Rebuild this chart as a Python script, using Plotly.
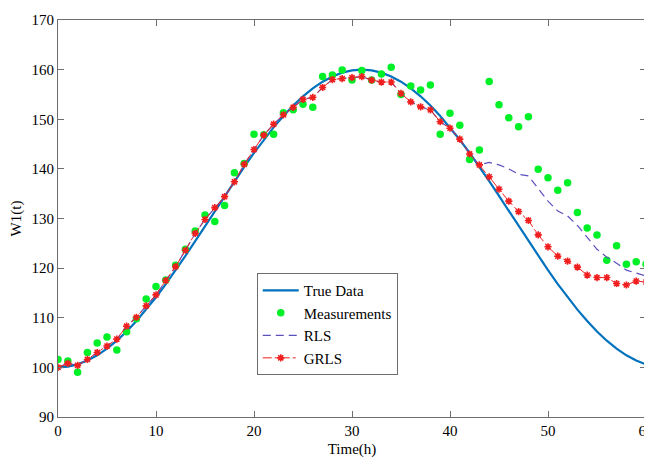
import plotly.graph_objects as go

t = list(range(61))

true_data = [100.0, 100.15, 100.61, 101.38, 102.43, 103.77, 105.38, 107.24, 109.33, 111.64,
             114.13, 116.79, 119.58, 122.48, 125.46, 128.48, 131.52, 134.54, 137.52, 140.42,
             143.21, 145.87, 148.36, 150.67, 152.76, 154.62, 156.23, 157.57, 158.62, 159.39,
             159.85, 160.0, 159.85, 159.39, 158.62, 157.57, 156.23, 154.62, 152.76, 150.67,
             148.36, 145.87, 143.21, 140.42, 137.52, 134.54, 131.52, 128.48, 125.46, 122.48,
             119.58, 116.79, 114.13, 111.64, 109.33, 107.24, 105.38, 103.77, 102.43, 101.38,
             100.61]

measurements = [101.6, 101.3, 99.0, 103.0, 104.9, 106.1, 103.5, 107.2, 109.8, 113.8,
                116.3, 117.6, 120.6, 123.8, 127.5, 130.7, 129.4, 132.6, 139.2, 141.1,
                147.0, 146.9, 147.0, 151.3, 151.9, 153.0, 152.4, 158.6, 158.9, 159.9,
                157.9, 159.8, 157.9, 159.1, 160.5, 155.0, 156.7, 155.9, 156.9, 147.0,
                151.2, 148.8, 141.9, 143.8, 157.6, 152.9, 150.3, 148.5, 150.5, 139.9,
                138.2, 135.7, 137.2, 131.2, 128.1, 126.7, 121.6, 124.5, 120.8, 121.3,
                120.8]

grls = [100.0, 100.8, 100.4, 101.6, 103.0, 104.3, 105.7, 108.3, 110.1, 112.4,
        114.6, 117.5, 120.3, 123.6, 127.0, 129.8, 132.2, 134.4, 137.4, 140.9,
        143.9, 146.8, 149.0, 150.9, 152.4, 154.0, 154.4, 156.4, 158.0, 158.2,
        158.4, 158.6, 157.9, 157.5, 157.5, 155.2, 153.5, 152.5, 151.9, 149.5,
        148.2, 146.0, 143.0, 140.8, 138.4, 135.9, 133.5, 131.4, 129.6, 126.7,
        124.3, 122.4, 121.4, 120.2, 118.6, 118.1, 118.1, 116.9, 116.6, 117.4,
        117.2]

rls = [100.0, 100.8, 100.4, 101.6, 103.0, 104.3, 105.7, 108.3, 110.1, 112.4,
       114.6, 117.5, 120.3, 123.6, 127.0, 129.8, 132.2, 134.4, 137.4, 140.9,
       143.9, 146.8, 149.0, 150.9, 152.4, 154.0, 154.4, 156.4, 158.0, 158.2,
       158.4, 158.6, 157.9, 157.5, 157.5, 155.2, 153.5, 152.5, 151.9, 149.5,
       148.2, 146.0, 143.0, 140.8, 141.3, 140.8, 140.0, 138.9, 138.6, 136.0,
       133.5, 131.5, 130.5, 128.6, 126.2, 123.8, 122.2, 121.0, 119.6, 119.0,
       118.4]

x_ticks = [0, 10, 20, 30, 40, 50, 60]
y_ticks = [90, 100, 110, 120, 130, 140, 150, 160, 170]

font_family = "Liberation Serif, Times New Roman, serif"

fig = go.Figure()
fig.add_trace(go.Scatter(x=t, y=true_data, mode="lines", name="True Data",
                         line=dict(color="rgb(0,114,189)", width=2.2)))
fig.add_trace(go.Scatter(x=t, y=measurements, mode="markers", name="Measurements",
                         marker=dict(color="rgb(0,240,40)", size=7.5, symbol="circle",
                                     line=dict(width=0))))
fig.add_trace(go.Scatter(x=t, y=rls, mode="lines", name="RLS",
                         line=dict(color="rgb(90,80,190)", width=1.2, dash="8px,5px")))
fig.add_trace(go.Scatter(x=t, y=grls, mode="lines+markers", name="GRLS",
                         line=dict(color="rgb(240,30,30)", width=1, dash="dashdot"),
                         marker=dict(symbol="asterisk-open", size=6,
                                     line=dict(color="rgb(240,20,20)", width=1.6))))

axis_common = dict(showline=True, linecolor="rgb(110,110,110)", linewidth=1,
                   mirror="ticks", ticks="inside", ticklen=6, tickcolor="rgb(110,110,110)",
                   showgrid=False, zeroline=False, automargin=False,
                   ticklabeloverflow="allow",
                   tickfont=dict(family=font_family, size=15, color="black"))

fig.update_layout(
    width=644, height=450,
    margin=dict(l=50, r=6, t=12, b=41),
    paper_bgcolor="white", plot_bgcolor="white",
    font=dict(family=font_family, size=14, color="black"),
    showlegend=True,
    legend=dict(x=0.338, y=0.3625, xanchor="left", yanchor="top",
                bgcolor="white", bordercolor="rgb(110,110,110)", borderwidth=1,
                font=dict(family=font_family, size=15, color="black"),
                tracegroupgap=0, itemwidth=36),
)
fig.update_xaxes(range=[0, 60], tickvals=x_ticks, title=dict(text="Time(h)", standoff=6,
                 font=dict(family=font_family, size=15)), **axis_common)
fig.update_yaxes(range=[90, 170], tickvals=y_ticks, title=dict(text="W1(t)", standoff=10,
                 font=dict(family=font_family, size=15)), **axis_common)

fig.write_html("out.html")
